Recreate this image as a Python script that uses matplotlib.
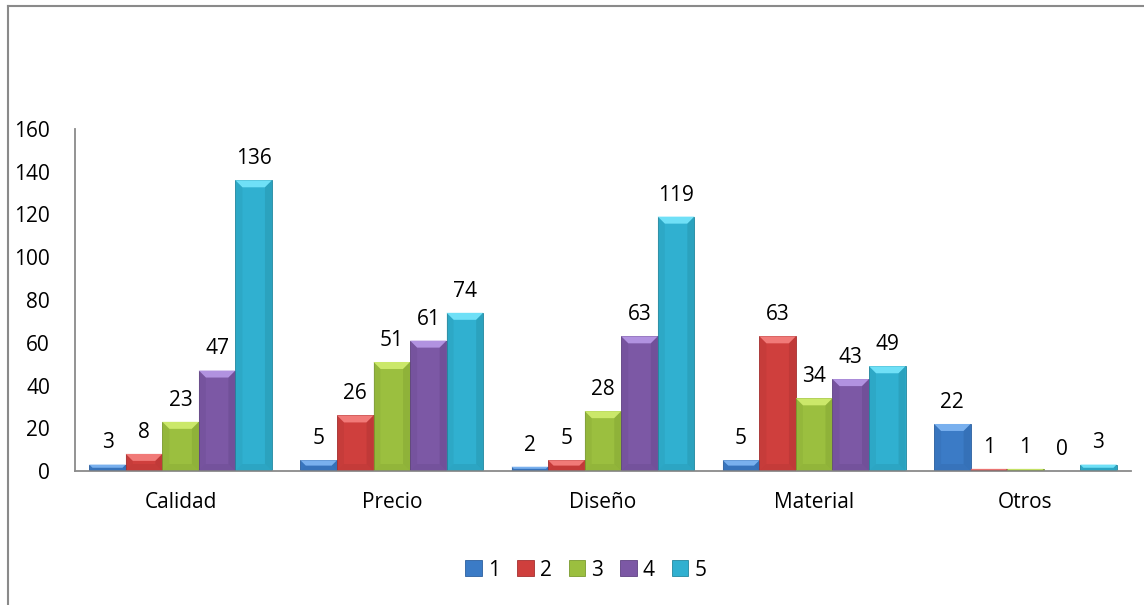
import matplotlib
matplotlib.use("Agg")
import matplotlib.pyplot as plt
from matplotlib.patches import Polygon, Patch
from matplotlib.lines import Line2D
import numpy as np

categories = ["Calidad", "Precio", "Diseño", "Material", "Otros"]
series_names = ["1", "2", "3", "4", "5"]
values = {
    "1": [3, 5, 2, 5, 22],
    "2": [8, 26, 5, 63, 1],
    "3": [23, 51, 28, 34, 1],
    "4": [47, 61, 63, 43, 0],
    "5": [136, 74, 119, 49, 3],
}
yticks = [0, 20, 40, 60, 80, 100, 120, 140, 160]

face = ["#3b7bc6", "#cf3f3d", "#9bbf3f", "#7c58a5", "#30b0d0"]
light = ["#79b0ee", "#f17a78", "#cbe86a", "#b192e0", "#6fe0f7"]
dark = ["#2c5f9e", "#a53030", "#7a9a2e", "#5f4283", "#22889f"]

plt.rcParams['font.family'] = ['Open Sans', 'DejaVu Sans']
FS = 15

fig = plt.figure(figsize=(11.44, 6.05), dpi=100)
ax = fig.add_axes([75 / 1144, 1 - 471 / 605, (1131 - 75) / 1144, (471 - 129) / 605])

n = len(series_names)
bw = 0.173
x = np.arange(len(categories))
offsets = (np.arange(n) - (n - 1) / 2) * bw

# bevel size in data units (about 7 px)
bx = 7 / 211.2
by = 7 / 2.1375

for i, s in enumerate(series_names):
    bars = ax.bar(x + offsets[i], values[s], width=bw, color=face[i],
                  edgecolor=dark[i], linewidth=0.6, zorder=2)
    for b, v in zip(bars, values[s]):
        x0, w, h = b.get_x(), b.get_width(), b.get_height()
        if h > 0:
            d = min(by, h / 2)
            dx = min(bx, w / 2) * d / by
            # lighter top chamfer
            ax.add_patch(Polygon([(x0, h), (x0 + w, h), (x0 + w - dx, h - d), (x0 + dx, h - d)],
                                 closed=True, facecolor=light[i], edgecolor='none', zorder=3))
            # darker side strips and bottom
            ax.add_patch(Polygon([(x0 + w, h), (x0 + w, 0), (x0 + w - dx, d), (x0 + w - dx, h - d)],
                                 closed=True, facecolor=dark[i], alpha=0.35, edgecolor='none', zorder=3))
            ax.add_patch(Polygon([(x0, h), (x0, 0), (x0 + dx, d), (x0 + dx, h - d)],
                                 closed=True, facecolor=dark[i], alpha=0.2, edgecolor='none', zorder=3))
            ax.add_patch(Polygon([(x0, 0), (x0 + w, 0), (x0 + w - dx, d), (x0 + dx, d)],
                                 closed=True, facecolor=dark[i], alpha=0.25, edgecolor='none', zorder=3))
        ax.annotate(str(v), xy=(x0 + w / 2, h), xytext=(0, 8), textcoords='offset points',
                    ha='center', va='bottom', fontsize=FS, color='black')

ax.set_xlim(-0.5, len(categories) - 0.5)
ax.set_ylim(0, 160)
ax.set_yticks(yticks)
ax.set_xticks(x)
ax.set_xticklabels(categories)
ax.tick_params(axis='y', length=0, pad=18, labelsize=FS)
ax.tick_params(axis='x', length=0, pad=15, labelsize=FS)
for side in ['top', 'right']:
    ax.spines[side].set_visible(False)
for side in ['left', 'bottom']:
    ax.spines[side].set_color('#8a8a8a')
    ax.spines[side].set_linewidth(1.3)

handles = [Patch(facecolor=face[i], edgecolor=dark[i], linewidth=0.6, label=s)
           for i, s in enumerate(series_names)]
fig.legend(handles=handles, loc='center', bbox_to_anchor=(586 / 1144, 1 - 570 / 605),
           ncol=n, frameon=False, fontsize=FS, handlelength=0.8, handleheight=0.8,
           handletextpad=0.3, columnspacing=0.8, borderpad=0)

# outer chart frame (left and top edges visible)
fig.add_artist(Line2D([8 / 1144, 8 / 1144], [0, 1 - 6 / 605], transform=fig.transFigure,
                      color='#8a8a8a', linewidth=1.5))
fig.add_artist(Line2D([8 / 1144, 1], [1 - 6 / 605, 1 - 6 / 605], transform=fig.transFigure,
                      color='#8a8a8a', linewidth=1.5))

fig.savefig("out.png", dpi=100)
